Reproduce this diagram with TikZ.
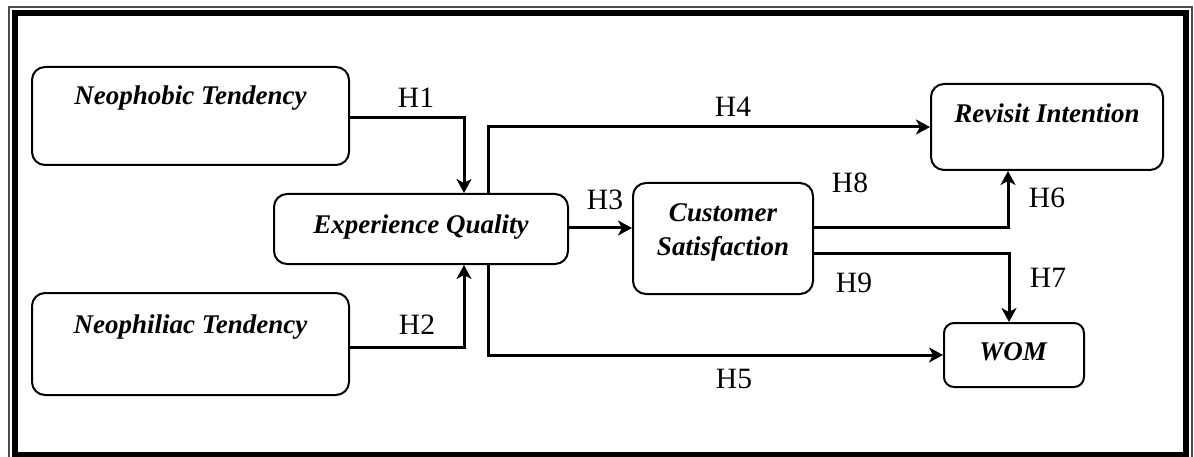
\documentclass[tikz,border=0pt]{standalone}
\usepackage{fontspec}
\setmainfont{Liberation Serif}
\usetikzlibrary{arrows.meta}
\begin{document}
\begin{tikzpicture}[x=1pt,y=-1pt,
  box/.style={draw, line width=2pt, rounded corners=13pt, inner sep=0pt},
  vname/.style={font=\fontsize{27}{31}\selectfont\bfseries\itshape, align=center, inner sep=0pt},
  hyp/.style={font=\fontsize{29.5}{32}\selectfont, inner sep=0pt},
  link/.style={line width=3pt},
  arr/.style={link, -{Stealth[length=14pt,width=15pt,inset=4pt]}}]
\useasboundingbox (0,0) rectangle (1194,457);
% double frame
\draw[line width=1.2pt, gray!60!black] (9,7) rectangle (1192,463);
\draw[line width=6pt] (14.5,13.5) rectangle (1185.5,455);

% construct boxes
\node[box, minimum width=317pt, minimum height=98pt] (phob) at (190.5,116) {};
\node[box, minimum width=317pt, minimum height=102pt] (phil) at (190.5,344) {};
\node[box, minimum width=294pt, minimum height=70pt] (eq) at (421,229) {};
\node[box, minimum width=180pt, minimum height=111pt] (cs) at (723,238.5) {};
\node[box, minimum width=232pt, minimum height=86pt] (ri) at (1047,127) {};
\node[box, minimum width=140pt, minimum height=64pt, rounded corners=10pt] (wom) at (1014,355) {};

% construct names
\node[vname] (phobt) at (190.5,98) {Neophobic Tendency};
\node[vname] (philt) at (190.5,327) {Neophiliac Tendency};
\node[vname] (eqt) at (421,227) {Experience Quality};
\node[vname] (cst) at (723,232.5) {Customer\\[3pt]Satisfaction};
\node[vname] (rit) at (1047,113) {Revisit Intention};
\node[vname] (womt) at (1013,352) {WOM};

% paths
\draw[arr] ([yshift=-2pt]phob.east) -| ([xshift=43pt]eq.north);
\draw[arr] ([yshift=-3pt]phil.east) -| ([xshift=43pt]eq.south);
\draw[arr] ([yshift=1pt]eq.east) -- ([yshift=1pt]eq.east -| cs.west);
\draw[arr] ([xshift=67pt]eq.north) |- (ri.west);
\draw[arr] ([xshift=67pt]eq.south) |- (wom.west);
\draw[arr] ([yshift=10.5pt]cs.east) -| ([xshift=-39pt]ri.south);
\draw[arr] ([yshift=-15pt]cs.east) -| ([xshift=-5pt]wom.north);

% hypothesis labels
\node[hyp] (h1) at (416,98) {H1};
\node[hyp] (h2) at (417,325) {H2};
\node[hyp] (h3) at (605,200) {H3};
\node[hyp] (h4) at (733,107) {H4};
\node[hyp] (h5) at (734,379) {H5};
\node[hyp] (h6) at (1047,198) {H6};
\node[hyp] (h7) at (1048,278) {H7};
\node[hyp] (h8) at (850,183) {H8};
\node[hyp] (h9) at (854,283) {H9};
\end{tikzpicture}
\end{document}
